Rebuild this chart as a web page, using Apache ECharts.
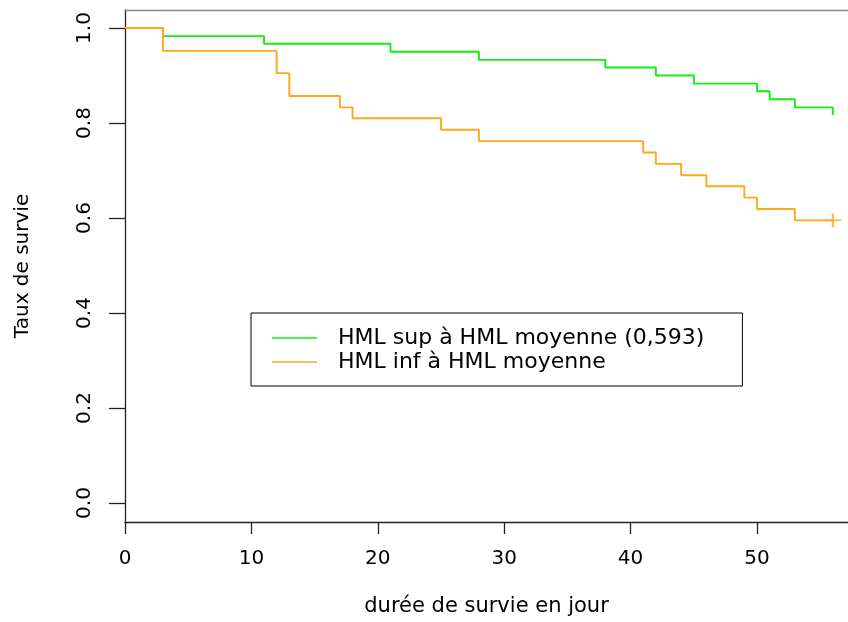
<!DOCTYPE html>
<html>
<head>
<meta charset="utf-8">
<script src="https://cdn.jsdelivr.net/npm/echarts@6/dist/echarts.min.js"></script>
<style>
  html, body { margin: 0; padding: 0; background: #fff; }
  #chart { width: 848px; height: 622px; }
</style>
</head>
<body>
<div id="chart"></div>
<script>
// ── Data (Kaplan-Meier steps) ───────────────────────────────
const supTimes  = [0, 3, 11, 21, 28, 38, 42, 45, 50, 51, 53, 56];
const supSurv   = [1, 0.983, 0.967, 0.950, 0.933, 0.917, 0.900, 0.883, 0.867, 0.850, 0.833, 0.817];

const infTimes  = [0, 3, 12, 13, 17, 18, 25, 28, 41, 42, 44, 46, 49, 50, 53, 56];
const infSurv   = [1, 0.952, 0.905, 0.857, 0.833, 0.810, 0.786, 0.762, 0.738, 0.714, 0.690, 0.667, 0.643, 0.619, 0.595, 0.595];

const infCensor = [[56, 0.595]];

const xTicks = [0, 10, 20, 30, 40, 50];
const yTicks = [0, 0.2, 0.4, 0.6, 0.8, 1.0];

const seriesNames = ['HML sup à HML moyenne (0,593)', 'HML inf à HML moyenne'];

// ── Style ───────────────────────────────────────────────────
const FONT   = 'DejaVu Sans';
const GREEN  = '#11ee11';
const ORANGE = '#ffa81a';
const X_MAX  = 57.2;

const pairs = (xs, ys) => xs.map((x, i) => [x, ys[i]]);

const chart = echarts.init(document.getElementById('chart'), null, { renderer: 'canvas' });

chart.setOption({
  animation: false,
  backgroundColor: '#fff',
  grid: { left: 125, right: 0, top: 10, bottom: 100 },
  xAxis: [
    {
      type: 'value',
      min: 0, max: X_MAX,
      name: 'durée de survie en jour',
      nameLocation: 'middle',
      nameGap: 74,
      nameTextStyle: { fontFamily: FONT, fontSize: 21, color: '#000', verticalAlign: 'top' },
      axisLine: { show: true, onZero: false, lineStyle: { color: '#222', width: 1.3 } },
      axisTick: { show: true, length: 12, customValues: xTicks, lineStyle: { color: '#222', width: 1.3 } },
      axisLabel: { customValues: xTicks, margin: 27, fontFamily: FONT, fontSize: 20, color: '#000' },
      splitLine: { show: false },
    },
    {
      // top edge of the plot box
      type: 'value', position: 'top',
      min: 0, max: X_MAX,
      axisLine: { show: true, onZero: false, lineStyle: { color: '#888', width: 1.3 } },
      axisTick: { show: false },
      axisLabel: { show: false },
      splitLine: { show: false },
    },
  ],
  yAxis: {
    type: 'value',
    min: -0.04, max: 1.038,
    name: 'Taux de survie',
    nameLocation: 'middle',
    nameGap: 92,
    nameRotate: 90,
    nameTextStyle: { fontFamily: FONT, fontSize: 20, color: '#000' },
    axisLine: { show: true, onZero: false, lineStyle: { color: '#222', width: 1.3 } },
    axisTick: { show: true, length: 16, customValues: yTicks, lineStyle: { color: '#222', width: 1.3 } },
    axisLabel: {
      customValues: yTicks, rotate: 90, margin: 30,
      fontFamily: FONT, fontSize: 20, color: '#000',
      formatter: v => v.toFixed(1),
    },
    splitLine: { show: false },
  },
  legend: {
    orient: 'vertical',
    left: 251, top: 313,
    data: seriesNames,
    icon: 'rect',
    itemWidth: 45, itemHeight: 1.4, itemGap: 0,
    padding: [13, 38, 12, 21],
    borderColor: '#000', borderWidth: 1,
    textStyle: { fontFamily: FONT, fontSize: 22, color: '#000', lineHeight: 24, padding: [0, 0, 0, 16] },
    selectedMode: false,
  },
  series: [
    {
      name: seriesNames[0],
      type: 'line', step: 'end',
      data: pairs(supTimes, supSurv),
      symbol: 'none',
      lineStyle: { color: GREEN, width: 1.9 },
      itemStyle: { color: GREEN },
    },
    {
      name: seriesNames[1],
      type: 'line', step: 'end',
      data: pairs(infTimes, infSurv),
      symbol: 'none',
      lineStyle: { color: ORANGE, width: 1.9 },
      itemStyle: { color: ORANGE },
    },
    {
      name: 'censure',
      type: 'scatter',
      data: infCensor,
      symbol: 'path://M10,0 L10,20 M0,10 L20,10',
      symbolSize: [17, 14],
      itemStyle: { color: 'transparent', borderColor: ORANGE, borderWidth: 1.9 },
      silent: true,
    },
  ],
});
</script>
</body>
</html>
